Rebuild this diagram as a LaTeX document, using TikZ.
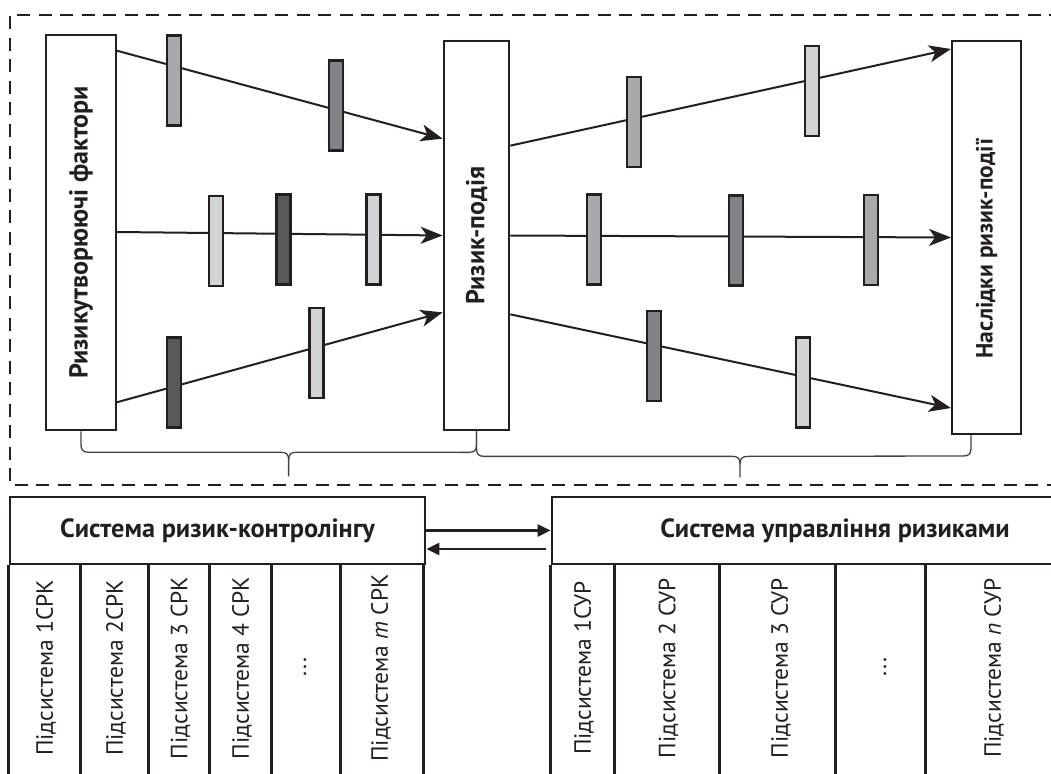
\documentclass[tikz,border=0pt]{standalone}
\usepackage{fontspec}
\setmainfont{PT Sans}
\usetikzlibrary{arrows.meta,calc}
\definecolor{ink}{HTML}{231F20}
\definecolor{gA}{HTML}{D1D3D4}
\definecolor{gB}{HTML}{A7A9AC}
\definecolor{gC}{HTML}{808285}
\definecolor{gD}{HTML}{58595B}
\begin{document}
\begin{tikzpicture}[x=1pt,y=-1pt,
  box/.style={draw=ink,line width=2pt,fill=white,inner sep=0pt},
  bar/.style={draw=ink,line width=2.2pt,minimum width=14pt,minimum height=90pt,inner sep=0pt},
  vt/.style={rotate=90,inner sep=0pt,font=\bfseries\fontsize{26}{30}\selectfont,text=ink},
  st/.style={rotate=90,inner sep=0pt,font=\fontsize{23.5}{28}\selectfont,text=ink},
  hdr/.style={draw=ink,line width=2.7pt,inner sep=0pt,minimum height=67pt,font=\bfseries\fontsize{26.3}{30}\selectfont,text=ink},
  tbl/.style={draw=ink,line width=2.7pt},
  arr/.style={draw=ink,line width=2pt,-{Stealth[length=22pt,width=17pt,inset=6pt]}},
  barr/.style={draw=ink,line width=2.6pt,-{Triangle[length=13pt,width=12pt]}},
  brc/.style={draw=ink!85,line width=1.3pt},
  dbox/.style={draw=ink,line width=2.6pt,dash pattern=on 13pt off 8.5pt}
]
\useasboundingbox (0,0) rectangle (1051,773);
\fill[white] (0,0) rectangle (1051,773);

% dashed frame
\draw[dbox] (1062,15) -- (10,15) -- (10,485) -- (1062,485);

% main boxes
\node[box,minimum width=70pt,minimum height=395.5pt] (lf) at (81,232.5) {};
\node[box,line width=2.7pt,minimum width=65pt,minimum height=389pt] (rp) at (476.5,235.5) {};
\node[box,minimum width=69pt,minimum height=393pt] (rn) at (986.5,237.5) {};

% arrows left
\draw[arr] ([yshift=-17pt]lf.north east) -- ([yshift=-99pt]rp.north west);
\draw[arr] ([yshift=0.5pt]lf.east) -- (rp.west);
\draw[arr] ([yshift=29pt]lf.south east) -- ([yshift=119pt]rp.south west);
% arrows right
\draw[arr] ([yshift=-106pt]rp.north east) -- ([yshift=-9pt]rn.north west);
\draw[arr] (rp.east) -- (rn.west);
\draw[arr] ([yshift=117pt]rp.south east) -- ([yshift=27pt]rn.south west);

% bars
\node[bar,fill=gB] (b1) at (174,80.5) {};
\node[bar,fill=gC] (b2) at (336,105.5) {};
\node[bar,fill=gA] (b3) at (216,241) {};
\node[bar,fill=gD] (b4) at (283.5,239.5) {};
\node[bar,fill=gA] (b5) at (373.5,239.5) {};
\node[bar,fill=gD] (b6) at (174,382.5) {};
\node[bar,fill=gA] (b7) at (316.5,353) {};
\node[bar,fill=gB] (r1) at (634,122) {};
\node[bar,fill=gA] (r2) at (812,91) {};
\node[bar,fill=gB] (r3) at (594,239.5) {};
\node[bar,fill=gC] (r4) at (736,240.5) {};
\node[bar,fill=gB] (r5) at (871,240) {};
\node[bar,fill=gC] (r6) at (654,356) {};
\node[bar,fill=gA] (r7) at (803,382.5) {};

% texts in boxes
\node[vt] (tlf) at (lf.center) {Ризикутворюючі фактори};
\node[vt] (trp) at (rp.center) {Ризик-подія};
\node[vt,font=\bfseries\fontsize{23.5}{28}\selectfont] (trn) at ([yshift=-11pt]rn.center) {Наслідки ризик-події};

% braces
\coordinate (t1) at ($(lf.south)!0.525!(rp.south)$);
\coordinate (re) at ([xshift=-15.5pt]rn.south);
\coordinate (t2) at ($(rp.south)!0.533!(re)$);
\draw[brc] (lf.south) -- ++(0,13) .. controls +(0,6) and +(-6,0) .. ++(8,8)
  -- ($(t1|-lf.south)+(-8,21)$) .. controls +(6,0) and +(0,-6) .. ($(t1|-lf.south)+(0,29)$) -- ($(t1|-lf.south)+(0,45)$);
\draw[brc] ($(t1|-lf.south)+(0,29)$) .. controls +(0,-6) and +(-6,0) .. ($(t1|-lf.south)+(8,21)$)
  -- ($(rp.south)+(-8,21)$) .. controls +(6,0) and +(0,6) .. ($(rp.south)+(0,13)$) -- (rp.south);
\draw[brc] (rp.south) -- ++(0,17) .. controls +(0,6) and +(-6,0) .. ++(8,8)
  -- ($(t2|-rp.south)+(-8,25)$) .. controls +(6,0) and +(0,-6) .. ($(t2|-rp.south)+(0,33)$) -- ($(t2|-rp.south)+(0,46)$);
\draw[brc] ($(t2|-rp.south)+(0,33)$) .. controls +(0,-6) and +(-6,0) .. ($(t2|-rp.south)+(8,25)$)
  -- ($(re)+(-8,21)$) .. controls +(6,0) and +(0,6) .. ($(re)+(0,13)$) -- (re);

% bottom tables
\node[hdr,minimum width=415pt] (srk) at (217.5,530.5) {Система ризик-контролінгу};
\node[hdr,minimum width=566pt] (sur) at (835,530.5) {Система управління ризиками};
\foreach \s in {0,72,140,201,263,332,415}
  \draw[tbl] ([xshift=\s pt]srk.south west) -- ++(0,215);
\foreach \s in {0,64,169,285,375}
  \draw[tbl] ([xshift=\s pt]sur.south west) -- ++(0,215);

\draw[barr] (srk.east) -- (sur.west);
\draw[barr] ([xshift=-5pt,yshift=-18.5pt]sur.west) -- ([yshift=-18.5pt]srk.east);

\node[st] (c1) at (46,668) {Підсистема 1СРК};
\node[st] (c2) at (116,668) {Підсистема 2СРК};
\node[st] (c3) at (180.5,668) {Підсистема 3 СРК};
\node[st] (c4) at (242,668) {Підсистема 4 СРК};
\node[st] (c5) at (305,667) {...};
\node[st] (c6) at (381,668) {Підсистема \textit{m} СРК};
\node[st] (d1) at (584,668) {Підсистема 1СУР};
\node[st] (d2) at (668.5,668) {Підсистема 2 СУР};
\node[st] (d3) at (781,668) {Підсистема 3 СУР};
\node[st] (d4) at (885,667) {...};
\node[st] (d5) at (994,668) {Підсистема \textit{n} СУР};
\end{tikzpicture}
\end{document}
